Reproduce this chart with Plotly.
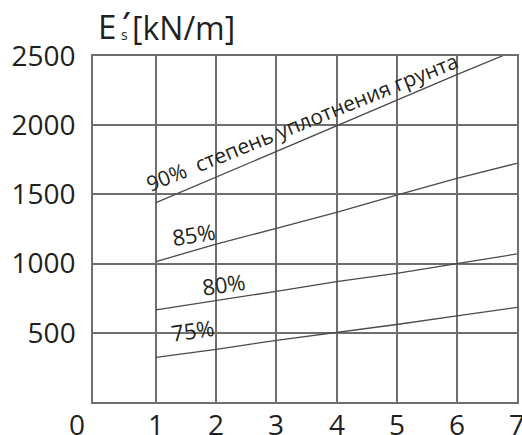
import plotly.graph_objects as go

# Compaction curves: stiffness E's [kN/m] against x
x_vals = [1, 2, 3, 4, 5, 6, 7]
e_90 = [1440, 1625, 1812, 2000, 2185, 2365, 2545]
e_85 = [1015, 1140, 1255, 1370, 1495, 1615, 1725]
e_80 = [665, 730, 800, 870, 930, 1000, 1070]
e_75 = [323, 381, 445, 500, 560, 622, 684]

y_ticks = [500, 1000, 1500, 2000, 2500]
x_ticks = [1, 2, 3, 4, 5, 6, 7]
x_tick_labels = ["0", "1", "2", "3", "4", "5", "6", "7"]

FONT = "Open Sans"
TXT = "#231f20"
GRID = "#6e6e6e"
LINE = "#4a4a4a"

fig = go.Figure()
for ys in (e_90, e_85, e_80, e_75):
    fig.add_trace(go.Scatter(x=x_vals, y=ys, mode="lines",
                             line=dict(color=LINE, width=1.3),
                             showlegend=False, hoverinfo="skip"))

fig.update_layout(
    width=522, height=435,
    margin=dict(l=93, r=5, t=56, b=33),
    paper_bgcolor="white", plot_bgcolor="white",
    font=dict(family=FONT, color=TXT, size=28),
    xaxis=dict(range=[-0.047, 7], tickvals=x_ticks, showticklabels=False,
               showgrid=True, gridcolor=GRID, gridwidth=1.5,
               showline=True, linecolor=GRID, linewidth=1.5, mirror=True,
               zeroline=False, ticks="", automargin=False),
    yaxis=dict(range=[0, 2500], tickvals=y_ticks,
               showgrid=True, gridcolor=GRID, gridwidth=1.5,
               showline=True, linecolor=GRID, linewidth=1.5, mirror=True,
               zeroline=False, ticks="", ticklabelstandoff=10, automargin=False,
               tickfont=dict(size=28, family=FONT, color=TXT)),
)

def paper_xy(px, py):
    return (px - 93) / 424, (402 - py) / 346

ann = []
# x tick labels; the origin label sits left of the frame
x_label_px = [77] + [156 + (v - 1) * 60.17 for v in x_ticks]
for lab, px in zip(x_tick_labels, x_label_px):
    x, y = paper_xy(px, 424)
    ann.append(dict(text=lab, xref="paper", yref="paper", x=x, y=y,
                    xanchor="center", yanchor="middle", showarrow=False,
                    font=dict(size=28, family=FONT, color=TXT)))

# axis title E's [kN/m]
for txt, px, py, size in [("E", 107, 26, 33), ("<b>\u2032</b>", 126, 21, 26),
                          ("s", 124, 34, 14), ("[kN/m]", 183, 27, 32)]:
    x, y = paper_xy(px, py)
    ann.append(dict(text=txt, xref="paper", yref="paper", x=x, y=y,
                    xanchor="center", yanchor="middle", showarrow=False,
                    font=dict(size=size, family=FONT, color=TXT)))

# curve labels
for txt, px, py, ang, size in [
        ("90%&nbsp;&nbsp;степень уплотнения грунта", 302, 122, -22, 21),
        ("85%", 193, 234, -9, 22),
        ("80%", 223, 284, -8, 22),
        ("75%", 192, 330, -8, 22)]:
    x, y = paper_xy(px, py)
    ann.append(dict(text=txt, xref="paper", yref="paper", x=x, y=y,
                    xanchor="center", yanchor="middle", showarrow=False,
                    textangle=ang, font=dict(size=size, family=FONT, color=TXT)))

fig.update_layout(annotations=ann)
fig.write_html("out.html")
